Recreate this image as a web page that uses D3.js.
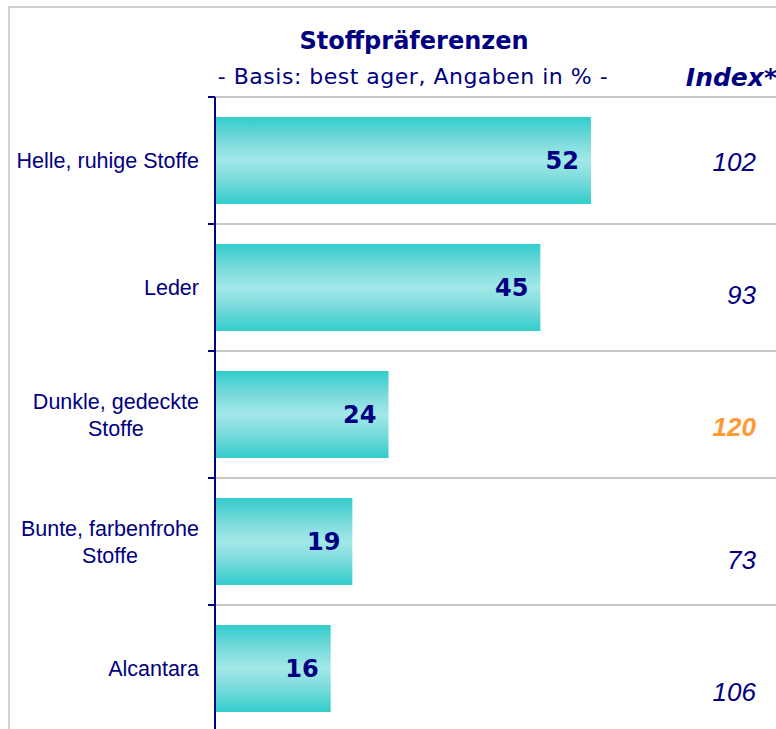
<!DOCTYPE html>
<html lang="de">
<head>
<meta charset="UTF-8">
<title>Stoffpräferenzen</title>
<style>
  body { margin: 0; background: #fff; }
  svg { display: block; font-family: "Liberation Sans", Arial, sans-serif; }
  .wide { font-family: "DejaVu Sans", sans-serif; }
</style>
</head>
<body>
<svg id="chart" width="776" height="729"></svg>
<script src="https://cdn.jsdelivr.net/npm/d3@7/dist/d3.min.js"></script>
<script>
const categories = [
  ["Helle, ruhige Stoffe"],
  ["Leder"],
  ["Dunkle, gedeckte", "Stoffe"],
  ["Bunte, farbenfrohe", "Stoffe"],
  ["Alcantara"]
];
const values = [52, 45, 24, 19, 16];
const indexValues = [102, 93, 120, 73, 106];
const highlighted = [false, false, true, false, false];

const navy = "#000080";
const svg = d3.select("#chart");
const keys = categories.map(c => c.join(" "));

// outer frame
svg.append("rect")
  .attr("x", 9).attr("y", 7).attr("width", 900).attr("height", 900)
  .attr("fill", "none").attr("stroke", "#d2d2d2").attr("stroke-width", 2);

// gradient for bars
const grad = svg.append("defs").append("linearGradient")
  .attr("id", "barGrad").attr("x1", 0).attr("y1", 0).attr("x2", 0).attr("y2", 1);
[[0, "#33cccc"], [0.3, "#7fdcdc"], [0.5, "#a3e8e8"], [0.7, "#7fdcdc"], [1, "#33cccc"]]
  .forEach(([o, c]) => grad.append("stop").attr("offset", o).attr("stop-color", c));

const x = d3.scaleLinear().domain([0, 60]).range([215, 215 + 60 * 7.23]);
const y = d3.scaleBand().domain(keys).range([97, 732])
  .paddingInner(0.315).paddingOuter(0.1575);
const yIdx = d3.scalePoint().domain(keys).range([162, 692]);

// gridlines + ticks at band boundaries
const bounds = d3.range(keys.length).map(i => 97 + i * y.step());
svg.append("g").selectAll("line").data(bounds).join("line")
  .attr("x1", 215).attr("x2", 776).attr("y1", d => d).attr("y2", d => d)
  .attr("stroke", "#c8c8c8").attr("stroke-width", 2);

// bars
svg.append("g").selectAll("rect").data(values).join("rect")
  .attr("x", x(0))
  .attr("y", (d, i) => y(keys[i]))
  .attr("width", d => x(d) - x(0))
  .attr("height", y.bandwidth())
  .attr("fill", "url(#barGrad)");

// axis
svg.append("line").attr("x1", 215).attr("x2", 215).attr("y1", 97).attr("y2", 729)
  .attr("stroke", navy).attr("stroke-width", 2);
svg.append("g").selectAll("line").data(bounds).join("line")
  .attr("x1", 208).attr("x2", 215).attr("y1", d => d).attr("y2", d => d)
  .attr("stroke", navy).attr("stroke-width", 2);

// value labels
svg.append("g").selectAll("text").data(values).join("text")
  .attr("class", "wide")
  .attr("x", d => x(d) - 12)
  .attr("y", (d, i) => y(keys[i]) + y.bandwidth() / 2)
  .attr("dy", "0.36em")
  .attr("text-anchor", "end")
  .attr("fill", navy).attr("font-weight", "bold").attr("font-size", 24)
  .text(d => d);

// category labels (block right-aligned, lines centred)
const lineH = 27;
categories.forEach((lines, i) => {
  const cy = y(keys[i]) + y.bandwidth() / 2;
  const g = svg.append("g");
  const ts = lines.map((t, j) => g.append("text")
    .attr("y", cy + (j - (lines.length - 1) / 2) * lineH)
    .attr("dy", "0.35em")
    .attr("text-anchor", "middle")
    .attr("fill", navy).attr("font-size", 21.5)
    .text(t));
  const w = d3.max(ts, t => t.node().getComputedTextLength());
  ts.forEach(t => t.attr("x", 199 - w / 2));
});

// index column
svg.append("g").selectAll("text").data(indexValues).join("text")
  .attr("x", 756)
  .attr("y", (d, i) => yIdx(keys[i]))
  .attr("dy", "0.36em")
  .attr("text-anchor", "end")
  .attr("font-style", "italic")
  .attr("font-weight", (d, i) => highlighted[i] ? "bold" : "normal")
  .attr("fill", (d, i) => highlighted[i] ? "#ff9933" : navy)
  .attr("font-size", 26)
  .text(d => d);

// titles
svg.append("text").attr("class", "wide").attr("x", 414).attr("y", 49).attr("text-anchor", "middle")
  .attr("fill", navy).attr("font-weight", "bold").attr("font-size", 24)
  .text("Stoffpräferenzen");
svg.append("text").attr("class", "wide").attr("x", 413).attr("y", 84).attr("text-anchor", "middle")
  .attr("fill", navy).attr("font-size", 22).attr("letter-spacing", 0.5)
  .text("- Basis: best ager, Angaben in % -");
svg.append("text").attr("class", "wide").attr("x", 777).attr("y", 86).attr("text-anchor", "end")
  .attr("fill", navy).attr("font-weight", "bold").attr("font-style", "italic").attr("font-size", 25)
  .text("Index*");
</script>
</body>
</html>
